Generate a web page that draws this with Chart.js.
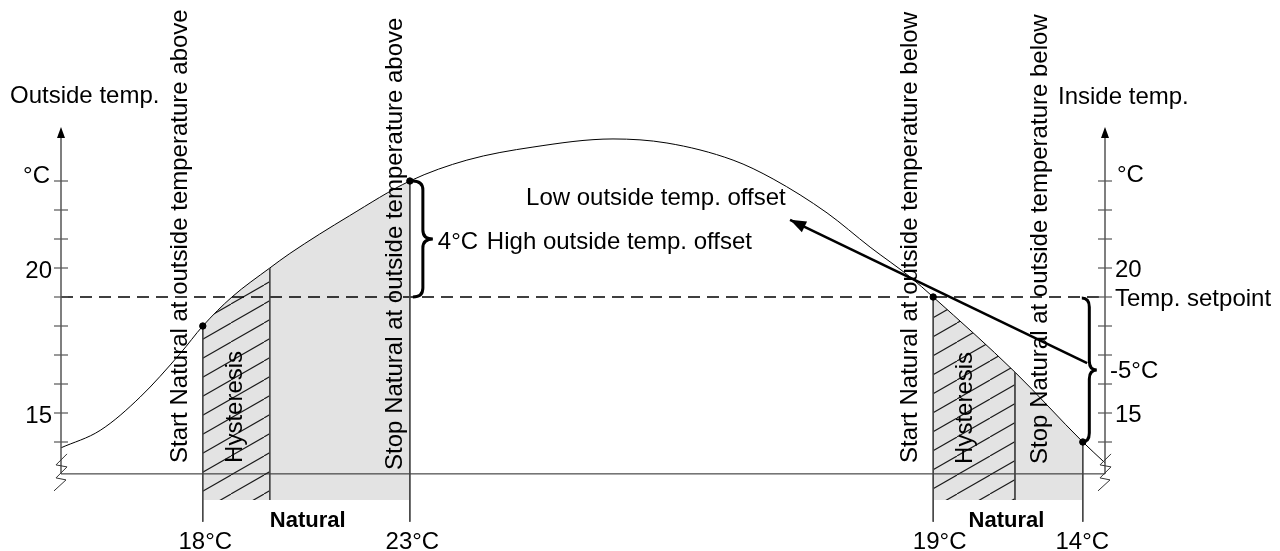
<!DOCTYPE html>
<html><head><meta charset="utf-8">
<script src="https://cdn.jsdelivr.net/npm/chart.js@4.4.1/dist/chart.umd.min.js"></script>
<style>html,body{margin:0;padding:0;background:#fff}#wrap{width:1280px;height:551px;position:relative}</style>
</head><body><div id="wrap"><canvas id="c"></canvas></div>
<script>
// ---- data ----
const hours = [0, 0.90, 1.82, 2.74, 3.26, 3.93, 4.80, 5.26, 6.63, 8.02, 9.33, 10.85, 12.69, 13.93, 15.45, 16.37, 17.61, 18.60, 19.52, 20.05, 21.93, 23.49, 24];
const outsideTemp = [13.8, 14.4, 15.55, 17.05, 18, 19, 20, 20.5, 21.8, 23, 23.72, 24.17, 24.45, 24.31, 23.72, 23.07, 21.9, 20.72, 19.69, 19, 16.41, 14, 13.28];
const switchHours = [3.26, 8.02, 20.05, 23.49];
const switchTemps = [18, 23, 19, 14];
const switchLabels = ['18°C', '23°C', '19°C', '14°C'];
const hysteresisEndHours = [4.80, 21.93];
const hysteresisEndTemps = [20, 16.41];
const setpoint = 19;
const baselineTemp = 12.9;
const fillFloor = 12;
const guideBottom = 11.25;
const yTickValues = [14, 15, 16, 17, 18, 19, 20, 21, 22, 23];
const yTickLabels = ['', '15', '', '', '', '', '20', '', '', '°C'];
const offsetArrowHours = [23.59, 16.76];
const offsetArrowTemps = [16.72, 21.66];
const highOffsetLabel = '4°C';
const lowOffsetLabel = '-5°C';

const FONT = "'Liberation Sans', Arial, sans-serif";
const AXIS = '#555';

// hatch pattern
function makeHatch() {
  const w = 33, h = 19;
  const c = document.createElement('canvas');
  c.width = w; c.height = h;
  const g = c.getContext('2d');
  g.fillStyle = '#e3e3e3'; g.fillRect(0, 0, w, h);
  g.strokeStyle = '#1a1a1a'; g.lineWidth = 1.1;
  for (const dx of [-w, 0, w]) {
    g.beginPath(); g.moveTo(dx, h); g.lineTo(dx + w, 0); g.stroke();
  }
  return g.createPattern(c, 'repeat');
}
const hatch = makeHatch();
const gray = '#e3e3e3';

function regionColor(mid) {
  if (mid > switchHours[0] && mid < hysteresisEndHours[0]) return hatch;
  if (mid > hysteresisEndHours[0] && mid < switchHours[1]) return gray;
  if (mid > switchHours[2] && mid < hysteresisEndHours[1]) return hatch;
  if (mid > hysteresisEndHours[1] && mid < switchHours[3]) return gray;
  return 'rgba(0,0,0,0)';
}

const curve = hours.map((h, i) => ({x: h, y: outsideTemp[i]}));
const datasets = [];
datasets.push({
  data: curve, borderColor: '#000', borderWidth: 1, pointRadius: 0,
  cubicInterpolationMode: 'monotone', fill: {value: fillFloor},
  backgroundColor: 'rgba(0,0,0,0)', order: 10,
  segment: { backgroundColor: c => regionColor((c.p0.parsed.x + c.p1.parsed.x) / 2) }
});
// guides down from the switching points
switchHours.forEach((h, i) => datasets.push({
  data: [{x: h, y: switchTemps[i]}, {x: h, y: guideBottom}],
  borderColor: '#444', borderWidth: 1, pointRadius: 0, order: 1
}));
hysteresisEndHours.forEach((h, i) => datasets.push({
  data: [{x: h, y: hysteresisEndTemps[i]}, {x: h, y: fillFloor}],
  borderColor: '#444', borderWidth: 1, pointRadius: 0, order: 1
}));
// setpoint dashed
datasets.push({
  data: [{x: 0, y: setpoint}, {x: 24, y: setpoint}],
  borderColor: '#000', borderWidth: 1.3, borderDash: [12, 7], pointRadius: 0, order: 1
});
// baseline
datasets.push({
  data: [{x: 0, y: baselineTemp}, {x: 24, y: baselineTemp}],
  borderColor: '#222', borderWidth: 1, pointRadius: 0, order: 1
});
// offset arrow
datasets.push({
  data: offsetArrowHours.map((h, i) => ({x: h, y: offsetArrowTemps[i]})),
  borderColor: '#000', borderWidth: 2.6, pointRadius: 0, order: 0
});
// dots
datasets.push({
  type: 'scatter',
  data: switchHours.map((h, i) => ({x: h, y: switchTemps[i]})),
  backgroundColor: '#000', borderColor: '#000', pointRadius: 3.2, order: 0
});

const decor = {
  id: 'decor',
  afterDatasetsDraw(chart) {
    const ctx = chart.ctx;
    const xs = chart.scales.x, ys = chart.scales.y;
    const X = v => xs.getPixelForValue(v), Y = v => ys.getPixelForValue(v);
    ctx.save();
    // axes
    const topY = Y(24.86), baseY = Y(baselineTemp);
    for (const ax of [0, 24]) {
      const x = X(ax);
      ctx.strokeStyle = AXIS; ctx.lineWidth = 1.5;
      ctx.beginPath(); ctx.moveTo(x, topY + 4); ctx.lineTo(x, baseY); ctx.stroke();
      ctx.fillStyle = '#000';
      ctx.beginPath(); ctx.moveTo(x, topY); ctx.lineTo(x - 4, topY + 11); ctx.lineTo(x + 4, topY + 11); ctx.closePath(); ctx.fill();
      ctx.lineWidth = 1.2;
      for (const v of yTickValues) {
        const y = Y(v);
        ctx.beginPath(); ctx.moveTo(x - 7, y); ctx.lineTo(x + 7, y); ctx.stroke();
      }
      // break zigzag
      ctx.strokeStyle = '#333'; ctx.lineWidth = 1;
      ctx.beginPath();
      const zz = [[-7, 17], [5, 6], [-5, 4], [6, -7], [-5, -9], [6, -20]];
      zz.forEach(([dx, dy], k) => k ? ctx.lineTo(x + dx, baseY + dy) : ctx.moveTo(x + dx, baseY + dy));
      ctx.stroke();
    }
    // arrow head
    const ax1 = X(offsetArrowHours[1]), ay1 = Y(offsetArrowTemps[1]);
    const ax0 = X(offsetArrowHours[0]), ay0 = Y(offsetArrowTemps[0]);
    const ang = Math.atan2(ay1 - ay0, ax1 - ax0);
    ctx.fillStyle = '#000';
    ctx.beginPath();
    ctx.moveTo(ax1, ay1);
    ctx.lineTo(ax1 - 16 * Math.cos(ang) + 6 * Math.sin(ang), ay1 - 16 * Math.sin(ang) - 6 * Math.cos(ang));
    ctx.lineTo(ax1 - 16 * Math.cos(ang) - 6 * Math.sin(ang), ay1 - 16 * Math.sin(ang) + 6 * Math.cos(ang));
    ctx.closePath(); ctx.fill();
    // braces
    function brace(x0, yT, yB, w) {
      const xm = x0 + w / 2, ym = (yT + yB) / 2, r = 9;
      ctx.beginPath();
      ctx.moveTo(x0, yT);
      ctx.quadraticCurveTo(xm, yT, xm, yT + r);
      ctx.lineTo(xm, ym - r);
      ctx.quadraticCurveTo(xm, ym, x0 + w, ym);
      ctx.quadraticCurveTo(xm, ym, xm, ym + r);
      ctx.lineTo(xm, yB - r);
      ctx.quadraticCurveTo(xm, yB, x0, yB);
      ctx.strokeStyle = '#000'; ctx.lineWidth = 3; ctx.stroke();
    }
    brace(X(switchHours[1]) + 3, Y(switchTemps[1]), Y(setpoint), 20);
    brace(X(switchHours[3]) - 1, Y(setpoint) + 1, Y(switchTemps[3]), 15);

    // texts
    ctx.fillStyle = '#000';
    ctx.textBaseline = 'alphabetic';
    ctx.font = '24px ' + FONT;
    const T = (s, x, y, align) => { ctx.textAlign = align || 'left'; ctx.fillText(s, x, y); };
    const L = X(0), R = X(24);
    T('Outside temp.', L - 51, topY - 24);
    T('Inside temp.', R - 47, topY - 23);
    yTickValues.forEach((v, i) => {
      const s = yTickLabels[i]; if (!s) return;
      const off = s === '°C' ? 2 : 10;
      T(s, L - (s === '°C' ? 11 : 9), Y(v) + off, 'right');
      T(s, R + (s === '°C' ? 12 : 10), Y(v) + (s === '°C' ? 1 : 9));
    });
    T('Temp. setpoint', R + 10, Y(setpoint) + 9);
    T(lowOffsetLabel, R + 5, Y((setpoint + switchTemps[3]) / 2) + 8);
    T(highOffsetLabel, X(switchHours[1]) + 28, Y((setpoint + switchTemps[1]) / 2) + 10);
    T('High outside temp. offset', X(switchHours[1]) + 77, Y((setpoint + switchTemps[1]) / 2) + 10);
    T('Low outside temp. offset', ax1 - 264, ay1 - 15);
    const labOff = [2.5, 2.5, 6.5, -0.5];
    switchLabels.forEach((s, i) => T(s, X(switchHours[i]) + labOff[i], 549, 'center'));
    ctx.font = 'bold 22px ' + FONT;
    T('Natural', X(hysteresisEndHours[0]), Y(fillFloor) + 27);
    T('Natural', (X(switchHours[2]) + X(switchHours[3])) / 2 - 1.5, Y(fillFloor) + 27, 'center');
    ctx.font = '24px ' + FONT;
    const V = (s, x, y) => { ctx.save(); ctx.translate(x, y); ctx.rotate(-Math.PI / 2); ctx.textAlign = 'left'; ctx.fillText(s, 0, 0); ctx.restore(); };
    V('Start Natural at outside temperature above', X(switchHours[0]) - 16, baseY - 11);
    V('Hysteresis', X(switchHours[0]) + 39, baseY - 11);
    V('Stop Natural at outside temperature above', X(switchHours[1]) - 8, baseY - 4);
    V('Start Natural at outside temperature below', X(switchHours[2]) - 16, baseY - 11);
    V('Hysteresis', X(switchHours[2]) + 39, baseY - 10);
    V('Stop Natural at outside temperature below', X(switchHours[3]) - 36, baseY - 10);
    ctx.restore();
  }
};

new Chart(document.getElementById('c'), {
  type: 'line',
  data: { datasets },
  options: {
    responsive: true, maintainAspectRatio: false, animation: false, events: [],
    layout: { padding: { left: 61, right: 175, top: 123, bottom: 22 } },
    scales: {
      x: { type: 'linear', min: 0, max: 24, display: false },
      y: { type: 'linear', min: 11, max: 25, display: false }
    },
    plugins: { legend: { display: false }, tooltip: { enabled: false }, filler: { drawTime: 'beforeDatasetsDraw' } }
  },
  plugins: [decor]
});
</script></body></html>
